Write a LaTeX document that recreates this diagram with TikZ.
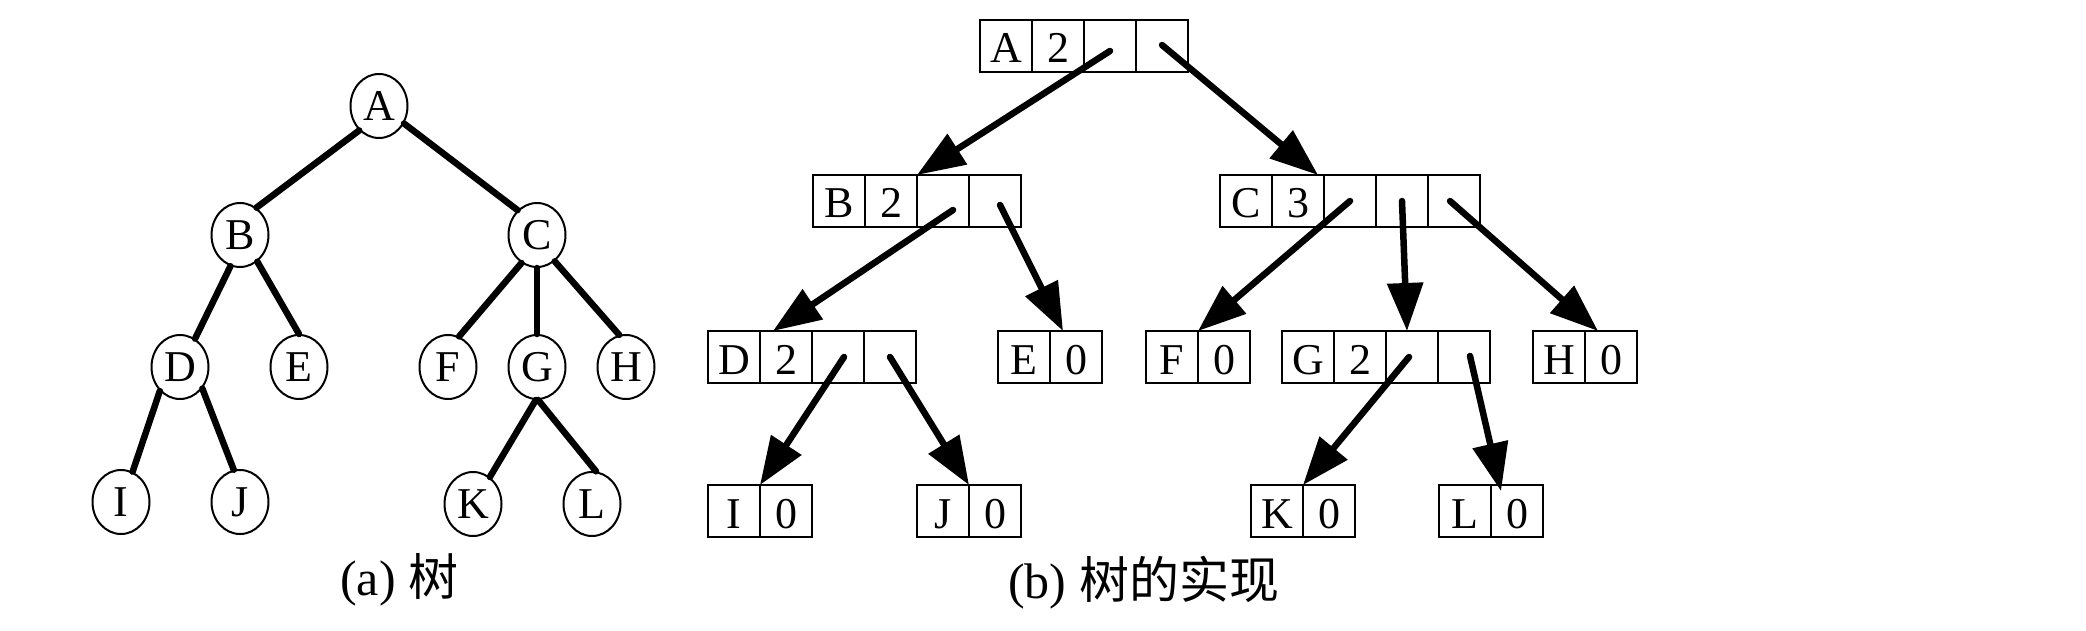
\documentclass[tikz,border=0pt]{standalone}
\usepackage{fontspec}
\setmainfont{Liberation Serif}
\newfontfamily\cjk{Noto Sans CJK SC}
\usetikzlibrary{shapes.geometric,arrows.meta,calc}
\begin{document}
\begin{tikzpicture}[x=1pt,y=-1pt,
  treenode/.style={ellipse,draw,line width=2pt,minimum width=57pt,minimum height=64pt,inner sep=0pt,font=\fontsize{44}{50}\selectfont,text height=29pt,text depth=0pt},
  treeline/.style={line width=6.5pt,line cap=round},
  cellbox/.style={draw,line width=2pt,minimum width=52pt,minimum height=52pt,inner sep=0pt,outer sep=0pt,anchor=north west,font=\fontsize{44}{50}\selectfont,text height=34pt,text depth=0pt},
  ptr/.style={line width=6.5pt,line cap=round,-{Triangle[length=48pt,width=35pt]}},
  captext/.style={anchor=base west,inner sep=0pt,font=\fontsize{50}{56}\selectfont}]
\useasboundingbox (0,0) rectangle (2086,631);
% ---------- (a) tree ----------
\node[treenode] (A) at (379,106) {A};
\node[treenode] (B) at (240,235) {B};
\node[treenode] (C) at (537,235) {C};
\node[treenode] (D) at (180,367) {D};
\node[treenode] (E) at (299,367) {E};
\node[treenode] (F) at (448,367) {F};
\node[treenode] (G) at (537,367) {G};
\node[treenode] (H) at (626,367) {H};
\node[treenode] (I) at (121,502) {I};
\node[treenode] (J) at (240,502) {J};
\node[treenode] (K) at (473,504) {K};
\node[treenode] (L) at (592,504) {L};
\draw[treeline] (A.231) -- (B.59);
\draw[treeline] (A.325) -- (C.128);
\draw[treeline] (B.253) -- (D.62);
\draw[treeline] (B.303) -- (E.90);
\draw[treeline] (C.241) -- (F.70);
\draw[treeline] (C.270) -- (G.90);
\draw[treeline] (C.304) -- (H.102);
\draw[treeline] (D.230) -- (I.69);
\draw[treeline] (D.316) -- (J.101);
\draw[treeline] (G.268) -- (K.58);
\draw[treeline] (G.272) -- (L.83);
\node[captext] (capa) at (340,595) {(a) {\cjk 树}};
% ---------- (b) implementation ----------
\node[cellbox] (bA1) at (980,20) {A};
\node[cellbox] (bA2) at (bA1.north east) {2};
\node[cellbox] (bA3) at (bA2.north east) {};
\node[cellbox] (bA4) at (bA3.north east) {};
\node[cellbox] (bB1) at (813,175) {B};
\node[cellbox] (bB2) at (bB1.north east) {2};
\node[cellbox] (bB3) at (bB2.north east) {};
\node[cellbox] (bB4) at (bB3.north east) {};
\node[cellbox] (bC1) at (1220,175) {C};
\node[cellbox] (bC2) at (bC1.north east) {3};
\node[cellbox] (bC3) at (bC2.north east) {};
\node[cellbox] (bC4) at (bC3.north east) {};
\node[cellbox] (bC5) at (bC4.north east) {};
\node[cellbox] (bD1) at (708,331) {D};
\node[cellbox] (bD2) at (bD1.north east) {2};
\node[cellbox] (bD3) at (bD2.north east) {};
\node[cellbox] (bD4) at (bD3.north east) {};
\node[cellbox] (bE1) at (998,331) {E};
\node[cellbox] (bE2) at (bE1.north east) {0};
\node[cellbox] (bF1) at (1146,331) {F};
\node[cellbox] (bF2) at (bF1.north east) {0};
\node[cellbox] (bG1) at (1282,331) {G};
\node[cellbox] (bG2) at (bG1.north east) {2};
\node[cellbox] (bG3) at (bG2.north east) {};
\node[cellbox] (bG4) at (bG3.north east) {};
\node[cellbox] (bH1) at (1533,331) {H};
\node[cellbox] (bH2) at (bH1.north east) {0};
\node[cellbox] (bI1) at (708,485) {I};
\node[cellbox] (bI2) at (bI1.north east) {0};
\node[cellbox] (bJ1) at (917,485) {J};
\node[cellbox] (bJ2) at (bJ1.north east) {0};
\node[cellbox] (bK1) at (1251,485) {K};
\node[cellbox] (bK2) at (bK1.north east) {0};
\node[cellbox] (bL1) at (1439,485) {L};
\node[cellbox] (bL2) at (bL1.north east) {0};
\draw[ptr] ($(bA3.center)+(0,5)$) -- (bB2.north east);
\draw[ptr] ($(bA4.center)+(0,-1)$) -- ($(bC2.north east)+(-6,0)$);
\draw[ptr] ($(bB3.center)+(10,9)$) -- ($(bD2.north west)+(13,0)$);
\draw[ptr] ($(bB4.center)+(5,4)$) -- ($(bE2.north west)+(13,0)$);
\draw[ptr] (bC3.center) -- (bF2.north west);
\draw[ptr] (bC4.center) -- ($(bG3.north west)+(21,0)$);
\draw[ptr] ($(bC5.center)+(-4,0)$) -- ($(bH2.north west)+(13,0)$);
\draw[ptr] ($(bD3.center)+(6,0)$) -- (bI2.north west);
\draw[ptr] (bD4.center) -- (bJ2.north west);
\draw[ptr] ($(bG3.center)+(-3,0)$) -- (bK2.north west);
\draw[ptr] ($(bG4.center)+(6,-1)$) -- ($(bL2.north west)+(10,6)$);
\node[captext] (capb) at (1008,598) {(b) {\cjk 树的实现}};
\end{tikzpicture}
\end{document}
